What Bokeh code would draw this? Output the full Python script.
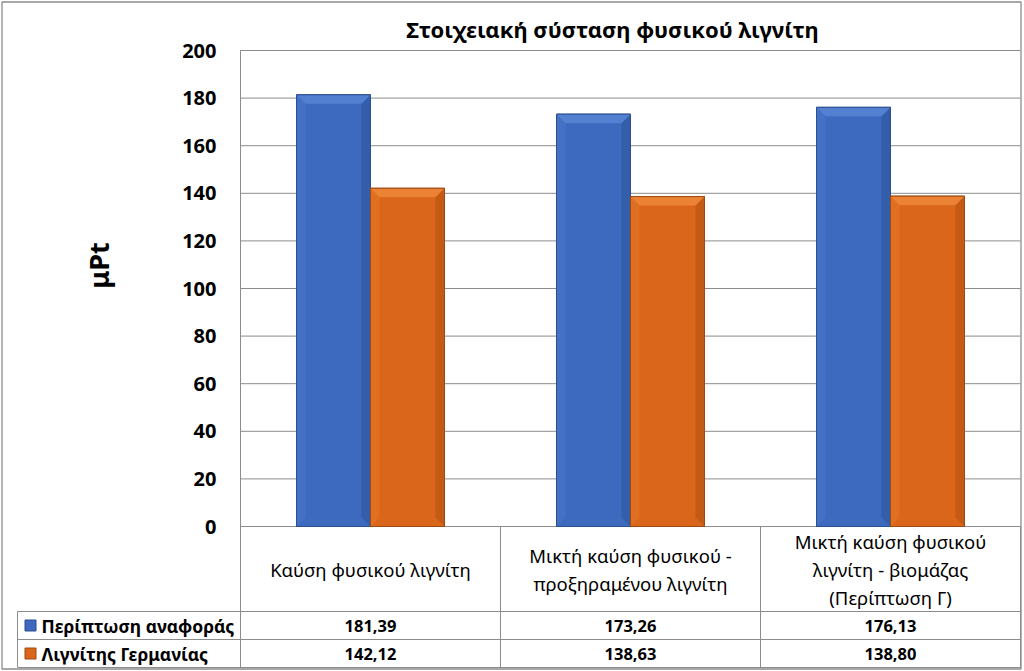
from bokeh.plotting import figure
from bokeh.models import Range1d
from bokeh.core.properties import value
from bokeh.embed import file_html
from bokeh.resources import INLINE

# ---------------- data ----------------
title_text = "Στοιχειακή σύσταση φυσικού λιγνίτη"
y_label = "μPt"
categories = [
    "Καύση φυσικού λιγνίτη",
    "Μικτή καύση φυσικού -\nπροξηραμένου λιγνίτη",
    "Μικτή καύση φυσικού\nλιγνίτη - βιομάζας\n(Περίπτωση Γ)",
]
series_names = ["Περίπτωση αναφοράς", "Λιγνίτης Γερμανίας"]
ref_values = [181.39, 173.26, 176.13]
germany_values = [142.12, 138.63, 138.80]
y_ticks = [0, 20, 40, 60, 80, 100, 120, 140, 160, 180, 200]

# ---------------- layout helpers ----------------
W, H = 1024, 671
PA_LEFT, PA_RIGHT = 240.0, 1020.0        # plot area in pixels
PA_TOP, PA_ZERO = 50.0, 526.0
NCOL = len(categories)
COLW = (PA_RIGHT - PA_LEFT) / NCOL
YS = (PA_ZERO - PA_TOP) / 200.0           # px per unit


def dx(px):
    return (px - PA_LEFT) / COLW


def dy(py):
    return (PA_ZERO - py) / YS


p = figure(width=W, height=H, output_backend="svg", toolbar_location=None,
           x_range=Range1d(dx(0), dx(W)), y_range=Range1d(dy(H), dy(0)),
           min_border=0, tools="")
p.axis.visible = False
p.grid.visible = False
p.outline_line_color = None
p.background_fill_color = "white"
p.border_fill_color = "white"

GRID = "#8c8c8c"
FONT = "Noto Sans"

# gridlines
p.segment(x0=[0] * len(y_ticks), x1=[NCOL] * len(y_ticks), y0=y_ticks, y1=y_ticks,
          line_color=GRID, line_width=1)
# vertical table / plot-area lines
p.segment(x0=list(range(NCOL + 1)), x1=list(range(NCOL + 1)),
          y0=[200] + [0] * NCOL, y1=[dy(667)] * (NCOL + 1), line_color=GRID, line_width=1)
p.segment(x0=[0], x1=[0], y0=[0], y1=[200], line_color=GRID, line_width=1)
# table horizontal lines
row_lines = [611, 639, 667]
p.segment(x0=[dx(17)] * 3, x1=[NCOL] * 3, y0=[dy(r) for r in row_lines],
          y1=[dy(r) for r in row_lines], line_color=GRID, line_width=1)
p.segment(x0=[dx(17)], x1=[dx(17)], y0=[dy(611)], y1=[dy(667)], line_color=GRID, line_width=1)
# outer border
p.quad(left=[dx(1.5)], right=[dx(1020.5)], top=[dy(1.5)], bottom=[dy(668.5)],
       fill_color=None, line_color=GRID, line_width=1.3)

# ---------------- bars ----------------
bw = 74.0 / COLW
colors = [
    dict(main="#3d69bf", light="#5a86d6", lside="#4a77cb", dark="#2f559c", line="#2c4f8f"),
    dict(main="#d9661a", light="#f08a3a", lside="#e57627", dark="#b5520f", line="#9c4a12"),
]
bx = 9.0 / COLW
by = 9.0 / YS
for s, vals in enumerate([ref_values, germany_values]):
    c = colors[s]
    xs = [i + 0.5 + (s - 0.5) * bw for i in range(NCOL)]
    p.vbar(x=xs, width=bw, top=vals, bottom=0, fill_color=c["main"], line_color=c["line"], line_width=1)
    tops_x, tops_y, lx, ly, rx, ry = [], [], [], [], [], []
    for x, v in zip(xs, vals):
        x0, x1 = x - bw / 2, x + bw / 2
        tops_x.append([x0, x1, x1 - bx, x0 + bx])
        tops_y.append([v, v, v - by, v - by])
        lx.append([x0, x0 + bx, x0 + bx, x0])
        ly.append([v, v - by, by, 0])
        rx.append([x1, x1 - bx, x1 - bx, x1])
        ry.append([v, v - by, by, 0])
    p.patches(xs=lx, ys=ly, fill_color=c["lside"], line_color=None, fill_alpha=0.6)
    p.patches(xs=rx, ys=ry, fill_color=c["dark"], line_color=None, fill_alpha=0.6)
    p.patches(xs=tops_x, ys=tops_y, fill_color=c["light"], line_color=None, fill_alpha=0.8)
    p.vbar(x=xs, width=bw, top=vals, bottom=0, fill_color=None, line_color=c["line"], line_width=1)

# ---------------- texts ----------------
p.text(x=[dx(612)], y=[dy(28)], text=[title_text], text_font=value(FONT),
       text_font_size="22px", text_font_style="bold", text_align="center",
       text_baseline="middle", text_color="black")
p.text(x=[dx(98)], y=[dy(265)], text=[y_label], text_font=value(FONT),
       text_font_size="27px", text_font_style="bold", text_align="center",
       text_baseline="middle", angle=1.5708, text_color="black")
p.text(x=[dx(216)] * len(y_ticks), y=y_ticks, text=[str(t) for t in y_ticks],
       text_font=value(FONT), text_font_size="20px", text_font_style="bold",
       text_align="right", text_baseline="middle", text_color="black")

# category header cells
hx, hy, ht = [], [], []
header_mid = (526 + 611) / 2.0
for i, cat in enumerate(categories):
    lines = cat.split("\n")
    n = len(lines)
    for k, ln in enumerate(lines):
        hx.append(i + 0.5)
        hy.append(dy(header_mid + (k - (n - 1) / 2.0) * 28))
        ht.append(ln)
p.text(x=hx, y=hy, text=ht, text_font=value(FONT), text_font_size="18.5px",
       text_align="center", text_baseline="middle", text_color="black")

# value rows
row_mid = [(611 + 639) / 2.0, (639 + 667) / 2.0]
for s, vals in enumerate([ref_values, germany_values]):
    p.text(x=[i + 0.5 for i in range(NCOL)], y=[dy(row_mid[s])] * NCOL,
           text=[f"{v:.2f}".replace(".", ",") for v in vals], text_font=value(FONT),
           text_font_size="16.5px", text_font_style="bold", text_align="center",
           text_baseline="middle", text_color="black")
    p.scatter(x=[dx(30)], y=[dy(row_mid[s])], marker="square", size=11,
              fill_color=colors[s]["main"], line_color=colors[s]["line"])
    p.text(x=[dx(41)], y=[dy(row_mid[s])], text=[series_names[s]], text_font=value(FONT),
           text_font_size="17.5px", text_font_style="bold", text_align="left",
           text_baseline="middle", text_color="black")

open("out.html", "w").write(file_html(p, INLINE))
